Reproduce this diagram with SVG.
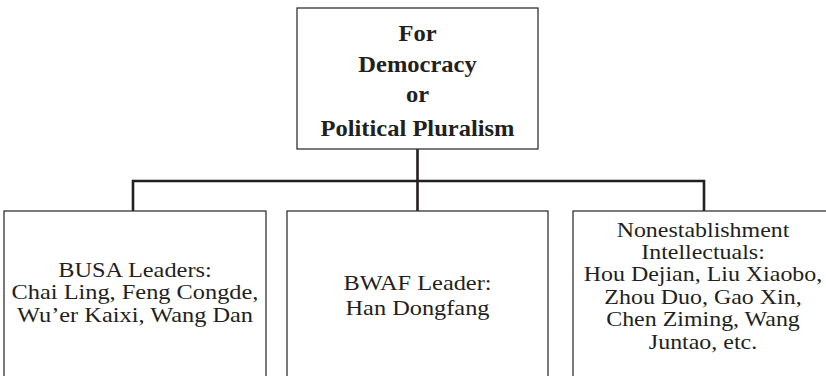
<svg xmlns="http://www.w3.org/2000/svg" width="826" height="376" viewBox="0 0 826 376">
<style>
.box{fill:#fff;stroke:#333;stroke-width:1.3}
.t{font-family:"Liberation Serif","Times New Roman",serif;font-size:21px;fill:#231f20;text-anchor:middle}
.b{font-weight:bold;font-size:22.5px}
.c{fill:none;stroke:#231f20;stroke-width:2.6}
</style>
<rect width="826" height="376" fill="#fff"/>
<g id="connectors">
<path class="c" d="M417.5 149V181M133 211V181H704V211M417.5 181V211"/>
</g>
<g id="top">
<rect class="box" x="297" y="8" width="241" height="141"/>
<g transform="translate(417.5 0) scale(1.09 1)">
<text class="t b" x="0" y="41">For</text>
<text class="t b" x="0" y="72">Democracy</text>
<text class="t b" x="0" y="102">or</text>
<text class="t b" x="0" y="136">Political Pluralism</text>
</g>
</g>
<g id="busa">
<rect class="box" x="4" y="211" width="262" height="180"/>
<g transform="translate(135 0) scale(1.16 1)">
<text class="t" x="0" y="277">BUSA Leaders:</text>
<text class="t" x="0" y="299.5">Chai Ling, Feng Congde,</text>
<text class="t" x="0" y="322">Wu’er Kaixi, Wang Dan</text>
</g>
</g>
<g id="bwaf">
<rect class="box" x="287" y="211" width="261" height="180"/>
<g transform="translate(417.5 0) scale(1.16 1)">
<text class="t" x="0" y="290">BWAF Leader:</text>
<text class="t" x="0" y="315">Han Dongfang</text>
</g>
</g>
<g id="intellectuals">
<rect class="box" x="573" y="211" width="262" height="180"/>
<g transform="translate(703 0) scale(1.14 1)">
<text class="t" x="0" y="237">Nonestablishment</text>
<text class="t" x="0" y="259">Intellectuals:</text>
<text class="t" x="0" y="281.5">Hou Dejian, Liu Xiaobo,</text>
<text class="t" x="0" y="304">Zhou Duo, Gao Xin,</text>
<text class="t" x="0" y="326.5">Chen Ziming, Wang</text>
<text class="t" x="0" y="349">Juntao, etc.</text>
</g>
</g>
</svg>
